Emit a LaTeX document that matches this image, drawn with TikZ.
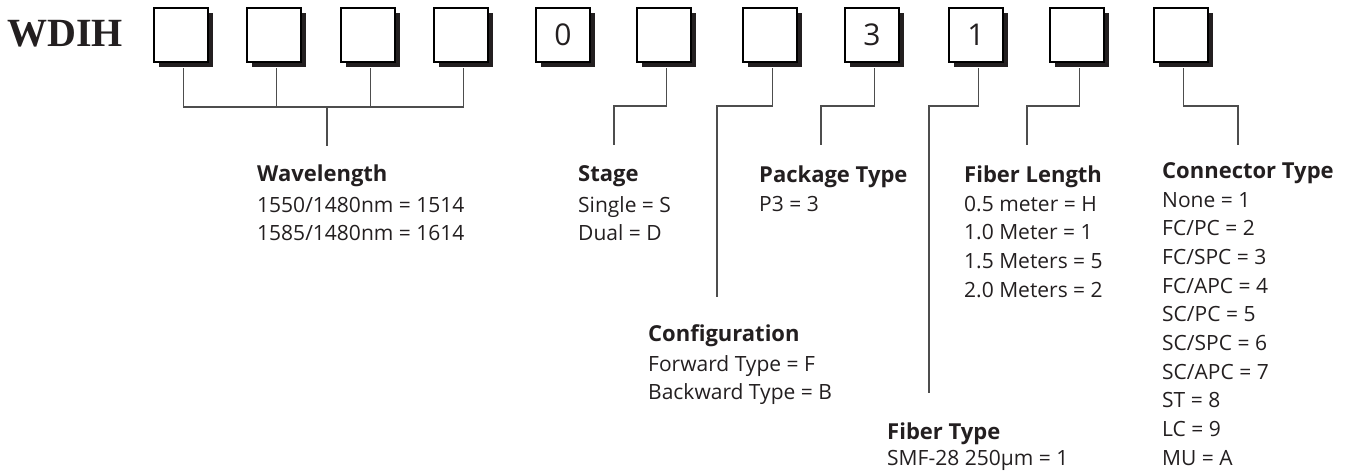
\documentclass[tikz,border=0pt]{standalone}
\usepackage{fontspec}
\setmainfont{Open Sans}
\newfontfamily\wdfont{Liberation Serif}
\usetikzlibrary{calc}
\definecolor{shadowc}{HTML}{231F20}
\definecolor{linec}{HTML}{4D4D4D}
\tikzset{
  codebox/.style={draw=black, line width=1.1pt, fill=white, minimum size=54pt, inner sep=0pt,
    font=\fontsize{30}{31}\selectfont, text=shadowc},
  boxshadow/.style={fill=shadowc, draw=none},
  conn/.style={draw=linec, line width=1.1pt},
  head/.style={anchor=base west, inner sep=0pt, font=\bfseries\fontsize{22}{26}\selectfont, text=shadowc},
  body/.style={anchor=base west, inner sep=0pt, font=\fontsize{21}{25}\selectfont, text=shadowc},
}
\begin{document}
\begin{tikzpicture}[x=1pt, y=-1pt]
\useasboundingbox (0,0) rectangle (1364,476);
\node[anchor=base west, inner sep=0pt, font=\wdfont\bfseries\fontsize{40}{42}\selectfont, text=shadowc] (wdih) at (7,47) {WDIH};
% shadows
\foreach \c in {181,274,368,461,563,664,770,872,976,1077,1181}{
  \path[boxshadow] (\c-22,13.5) rectangle (\c+32,67.5);
}
% boxes
\node[codebox] (b1) at (181,35) {};
\node[codebox] (b2) at (274,35) {};
\node[codebox] (b3) at (368,35) {};
\node[codebox] (b4) at (461,35) {};
\node[codebox] (b5) at (563,35) {0};
\node[codebox] (b6) at (664,35) {};
\node[codebox] (b7) at (770,35) {};
\node[codebox] (b8) at (872,35) {3};
\node[codebox] (b9) at (976,35) {1};
\node[codebox] (b10) at (1077,35) {};
\node[codebox] (b11) at (1181,35) {};
% wavelength connector
\coordinate (wj) at (327,107);
\coordinate (wl) at (327,146);
\foreach \b in {b1,b2,b3,b4}{
  \draw[conn] ($(\b.south)+(2.5,5.5)$) |- (wj);
}
\draw[conn] (wj) -- (wl);
% single connectors
\coordinate (k6) at (614,106);  \coordinate (e6) at (614,145);
\coordinate (k7) at (717,106);  \coordinate (e7) at (717,297);
\coordinate (k8) at (821,106);  \coordinate (e8) at (821,145);
\coordinate (k9) at (929,106);  \coordinate (e9) at (929,393);
\coordinate (k10) at (1027,106); \coordinate (e10) at (1027,145);
\coordinate (k11) at (1238,106); \coordinate (e11) at (1238,145);
\foreach \i in {6,7,8,9,10,11}{
  \draw[conn] ($(b\i.south)+(2.5,5.5)$) |- (k\i) -- (e\i);
}
% Wavelength
\node[head] (hwl) at (257,181) {Wavelength};
\node[body] (wl1) at (257,212) {1550/1480nm = 1514};
\node[body] (wl2) at (257,240) {1585/1480nm = 1614};
% Stage
\node[head] (hst) at (578,181) {Stage};
\node[body] (st1) at (578,212) {Single = S};
\node[body] (st2) at (578,240) {Dual = D};
% Package type
\node[head] (hpk) at (759,182) {Package Type};
\node[body] (pk1) at (759,211) {P3 = 3};
% Fiber length
\node[head] (hfl) at (964,182) {Fiber Length};
\node[body] (fl1) at (964,211) {0.5 meter = H};
\node[body] (fl2) at (964,239.5) {1.0 Meter = 1};
\node[body] (fl3) at (964,268) {1.5 Meters = 5};
\node[body] (fl4) at (964,297) {2.0 Meters = 2};
% Configuration
\node[head] (hcf) at (648,341) {Configuration};
\node[body] (cf1) at (648,371) {Forward Type = F};
\node[body] (cf2) at (648,399) {Backward Type = B};
% Fiber type
\node[head] (hft) at (887,439) {Fiber Type};
\node[body] (ft1) at (887,465) {SMF-28 250µm = 1};
% Connector type
\node[head] (hct) at (1162,178) {Connector Type};
\foreach \t [count=\i from 0] in {None = 1, FC/PC = 2, FC/SPC = 3, FC/APC = 4, SC/PC = 5, SC/SPC = 6, SC/APC = 7, ST = 8, LC = 9, MU = A}{
  \node[body] (ct\i) at (1162,{207+28.67*\i}) {\t};
}
\end{tikzpicture}
\end{document}
